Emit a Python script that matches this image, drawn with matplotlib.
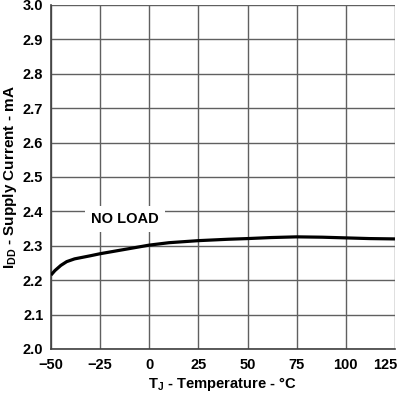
import matplotlib
matplotlib.use("Agg")
import matplotlib.pyplot as plt

plt.rcParams['font.family'] = ['Liberation Sans', 'DejaVu Sans']
plt.rcParams['mathtext.default'] = 'regular'

temps = [-50, -48, -45, -42, -38, -30, -25, -15, 0, 10, 25, 40, 50, 62, 75, 88, 100, 112, 125]
current = [2.215, 2.228, 2.243, 2.254, 2.262, 2.271, 2.277, 2.287, 2.302, 2.309, 2.315, 2.319, 2.321, 2.324, 2.326, 2.325, 2.323, 2.321, 2.320]
xticks = [-50, -25, 0, 25, 50, 75, 100, 125]
xticklabels = ['\u221250', '\u221225', '0', '25', '50', '75', '100', '125']
yticks = [2.0, 2.1, 2.2, 2.3, 2.4, 2.5, 2.6, 2.7, 2.8, 2.9, 3.0]

fig = plt.figure(figsize=(4.0, 3.96), dpi=100)
ax = fig.add_axes([51/400, 1 - 349/396, 344/400, 344/396])
ax.set_xlim(-50, 125)
ax.set_ylim(2.0, 3.0)
ax.set_xticks(xticks)
ax.set_xticklabels(xticklabels[:-1] + [''])
ax.set_yticks(yticks)
ax.set_yticklabels([f"{v:.1f}" for v in yticks])
ax.grid(True, color='#606060', linewidth=1.0)
ax.set_axisbelow(True)
for s in ['top', 'right']:
    ax.spines[s].set_visible(False)
for s in ['left', 'bottom']:
    ax.spines[s].set_color('#404040')
    ax.spines[s].set_linewidth(1.2)
ax.tick_params(axis='x', length=0, pad=6.5, labelsize=10.5)
ax.tick_params(axis='y', length=0, pad=5.5, labelsize=10.5)
for lbl in ax.get_xticklabels() + ax.get_yticklabels():
    lbl.set_fontweight('bold')

# last x tick label kept inside the figure, as in the reference
ax.annotate(xticklabels[-1], xy=(xticks[-1], 0), xycoords=('data', 'axes fraction'),
            xytext=(1.5, -11.5), textcoords='offset points', ha='right', va='center',
            fontsize=10.5, fontweight='bold', annotation_clip=False)

ax.plot(temps, current, color='black', linewidth=2.3, solid_capstyle='butt', zorder=3)

ax.text(-12.5, 2.378, 'NO LOAD', ha='center', va='center', fontsize=10.5, fontweight='bold',
        bbox=dict(facecolor='white', edgecolor='none', pad=4.5), zorder=4)

ax.set_xlabel(r'T$_J$ - Temperature - °C', fontsize=10.6, fontweight='bold')
ax.set_ylabel(r'I$_{DD}$ - Supply Current - mA', fontsize=11, fontweight='bold')
ax.xaxis.set_label_coords(0.5, -(384 - 349) / 344, transform=ax.transAxes)
ax.xaxis.label.set_va('center')
ax.yaxis.set_label_coords(-(51 - 10) / 344, 0.5)
ax.yaxis.label.set_va('center')

fig.savefig('out.png', dpi=100)
